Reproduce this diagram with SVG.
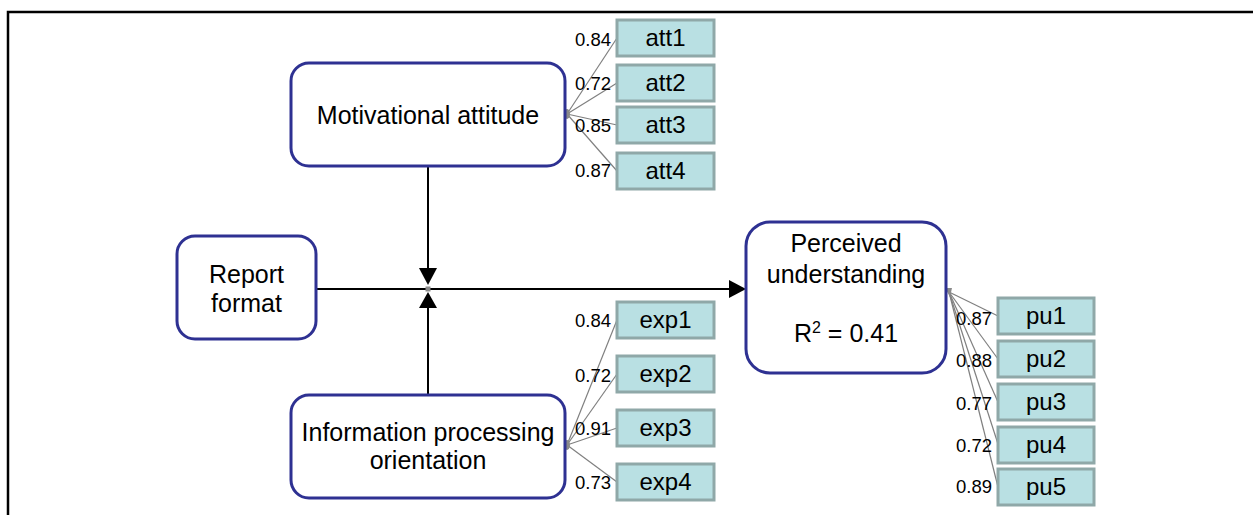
<svg xmlns="http://www.w3.org/2000/svg" width="1253" height="515" viewBox="0 0 1253 515">
<style>
.lat{fill:#fff;stroke:#2e3192;stroke-width:3}
.ind{fill:#b9e0e3;stroke:#8fa8a8;stroke-width:3}
.t{font-family:"Liberation Sans",Arial,sans-serif;font-size:25px;fill:#000;text-anchor:middle}
.ti{font-family:"Liberation Sans",Arial,sans-serif;font-size:24px;fill:#000;text-anchor:middle}
.ld{font-family:"Liberation Sans",Arial,sans-serif;font-size:18.5px;fill:#000;text-anchor:end}
.ll{stroke:#808080;stroke-width:1.2;fill:none}
.path{stroke:#000;stroke-width:2;fill:none}
.hub{fill:#8a8a8a}
</style>
<rect width="1253" height="515" fill="#fff"/>
<path d="M8,515 V12 H1253" fill="none" stroke="#000" stroke-width="2.5"/>

<g id="connectors">
  <line class="path" x1="316" y1="289" x2="731" y2="289"/>
  <polygon points="729,280 746,289 729,298" fill="#000"/>
  <line class="path" x1="428" y1="166" x2="428" y2="270"/>
  <polygon points="419,268 437,268 428,285" fill="#000"/>
  <line class="path" x1="428" y1="395" x2="428" y2="306"/>
  <polygon points="419,308 437,308 428,292" fill="#000"/>
  <rect x="425.5" y="286.5" width="5" height="5" fill="#8a8a8a"/>

  <g id="att-loadings">
    <line class="ll" x1="567" y1="114" x2="617" y2="38"/>
    <line class="ll" x1="567" y1="114" x2="617" y2="83"/>
    <line class="ll" x1="567" y1="114" x2="617" y2="125"/>
    <line class="ll" x1="567" y1="114" x2="617" y2="171"/>
    <ellipse class="hub" cx="567" cy="114" rx="3" ry="5"/>
  </g>
  <g id="exp-loadings">
    <line class="ll" x1="567" y1="445" x2="617" y2="320"/>
    <line class="ll" x1="567" y1="445" x2="617" y2="374"/>
    <line class="ll" x1="567" y1="445" x2="617" y2="428"/>
    <line class="ll" x1="567" y1="445" x2="617" y2="482"/>
    <ellipse class="hub" cx="567" cy="445" rx="3" ry="5"/>
  </g>
  <g id="pu-loadings">
    <line class="ll" x1="949" y1="292" x2="998" y2="316"/>
    <line class="ll" x1="949" y1="292" x2="998" y2="359"/>
    <line class="ll" x1="949" y1="292" x2="998" y2="402"/>
    <line class="ll" x1="949" y1="292" x2="998" y2="444"/>
    <line class="ll" x1="949" y1="292" x2="998" y2="487"/>
    <polygon class="hub" points="945,288 952,288 950,297"/>
  </g>
</g>

<g id="motivational-attitude">
  <rect class="lat" x="291" y="63" width="274" height="103" rx="18"/>
  <text class="t" x="428" y="124">Motivational attitude</text>
</g>
<g id="report-format">
  <rect class="lat" x="177" y="236" width="139" height="103" rx="18"/>
  <text class="t" x="246.5" y="283">Report</text>
  <text class="t" x="246.5" y="312">format</text>
</g>
<g id="information-processing-orientation">
  <rect class="lat" x="291" y="395" width="274" height="103" rx="18"/>
  <text class="t" x="428" y="441">Information processing</text>
  <text class="t" x="428" y="469">orientation</text>
</g>
<g id="perceived-understanding">
  <rect class="lat" x="746" y="222" width="200" height="151" rx="24"/>
  <text class="t" x="846" y="252">Perceived</text>
  <text class="t" x="846" y="283">understanding</text>
  <text class="t" x="846" y="342">R<tspan font-size="16" dy="-9">2</tspan><tspan dy="9"> = 0.41</tspan></text>
</g>

<g id="att1"><rect class="ind" x="617" y="20" width="97" height="36"/><text class="ti" x="665.5" y="46">att1</text></g>
<g id="att2"><rect class="ind" x="617" y="65" width="97" height="36"/><text class="ti" x="665.5" y="91">att2</text></g>
<g id="att3"><rect class="ind" x="617" y="107" width="97" height="36"/><text class="ti" x="665.5" y="133">att3</text></g>
<g id="att4"><rect class="ind" x="617" y="153" width="97" height="36"/><text class="ti" x="665.5" y="179">att4</text></g>

<g id="exp1"><rect class="ind" x="617" y="302" width="97" height="36"/><text class="ti" x="665.5" y="328">exp1</text></g>
<g id="exp2"><rect class="ind" x="617" y="356" width="97" height="36"/><text class="ti" x="665.5" y="382">exp2</text></g>
<g id="exp3"><rect class="ind" x="617" y="410" width="97" height="36"/><text class="ti" x="665.5" y="436">exp3</text></g>
<g id="exp4"><rect class="ind" x="617" y="464" width="97" height="36"/><text class="ti" x="665.5" y="490">exp4</text></g>

<g id="pu1"><rect class="ind" x="998" y="298" width="96" height="36"/><text class="ti" x="1046" y="324">pu1</text></g>
<g id="pu2"><rect class="ind" x="998" y="341" width="96" height="36"/><text class="ti" x="1046" y="367">pu2</text></g>
<g id="pu3"><rect class="ind" x="998" y="384" width="96" height="36"/><text class="ti" x="1046" y="410">pu3</text></g>
<g id="pu4"><rect class="ind" x="998" y="427" width="96" height="36"/><text class="ti" x="1046" y="453">pu4</text></g>
<g id="pu5"><rect class="ind" x="998" y="469" width="96" height="36"/><text class="ti" x="1046" y="495">pu5</text></g>

<g id="loading-labels">
  <text class="ld" x="611" y="46">0.84</text>
  <text class="ld" x="611" y="90">0.72</text>
  <text class="ld" x="611" y="132">0.85</text>
  <text class="ld" x="611" y="177">0.87</text>
  <text class="ld" x="611" y="327">0.84</text>
  <text class="ld" x="611" y="382">0.72</text>
  <text class="ld" x="611" y="435">0.91</text>
  <text class="ld" x="611" y="489">0.73</text>
  <text class="ld" x="992" y="325">0.87</text>
  <text class="ld" x="992" y="367">0.88</text>
  <text class="ld" x="992" y="410">0.77</text>
  <text class="ld" x="992" y="452">0.72</text>
  <text class="ld" x="992" y="493">0.89</text>
</g>
</svg>
